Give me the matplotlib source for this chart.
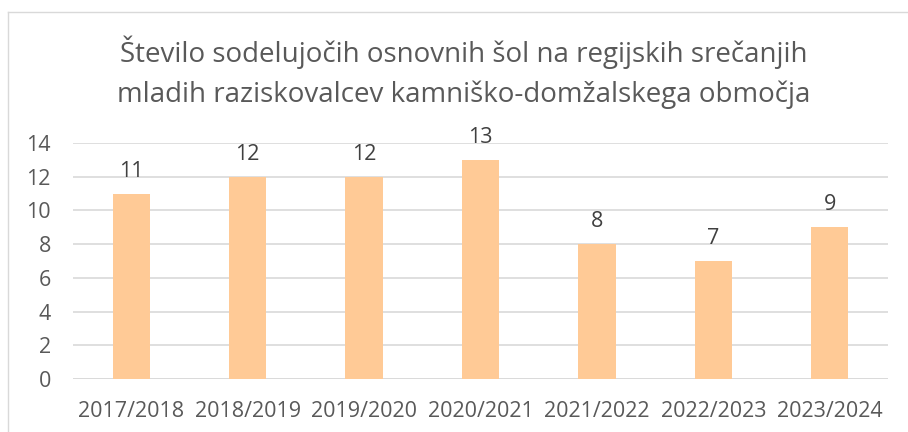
import matplotlib
matplotlib.use("Agg")
import matplotlib.pyplot as plt
from matplotlib.lines import Line2D

categories = ["2017/2018", "2018/2019", "2019/2020", "2020/2021", "2021/2022", "2022/2023", "2023/2024"]
values = [11, 12, 12, 13, 8, 7, 9]
yticks = [0, 2, 4, 6, 8, 10, 12, 14]
title = "Število sodelujočih osnovnih šol na regijskih srečanjih\nmladih raziskovalcev kamniško-domžalskega območja"

W, H = 908, 432
fig = plt.figure(figsize=(W / 100, H / 100), dpi=100)
plt.rcParams['font.family'] = ['Open Sans', 'DejaVu Sans']
txt = "#595959"

# axes: x from 73 to 888 px, y from 379 (0) to 143 (14)
left, right = 73, 888
bottom, top = 379, 143
ax = fig.add_axes([left / W, 1 - bottom / H, (right - left) / W, (bottom - top) / H])

x = range(len(categories))
bars = ax.bar(x, values, width=0.32, color="#FFCA96", zorder=3)
for xi, v in zip(x, values):
    ax.text(xi, v + 0.7, str(v), ha="center", va="bottom", fontsize=15.5, color="#404040")

ax.set_xlim(-0.5, len(categories) - 0.5)
ax.set_ylim(0, 14)
ax.set_yticks(yticks)
ax.set_xticks(list(x))
ax.set_xticklabels(categories)
ax.tick_params(axis="both", length=0, colors=txt, labelsize=15.5)
ax.tick_params(axis="x", pad=16)
ax.tick_params(axis="y", pad=16)
ax.yaxis.grid(True, color="#D9D9D9", linewidth=1.2, zorder=0)
for s in ax.spines.values():
    s.set_visible(False)
ax.axhline(0, color="#D9D9D9", linewidth=1.2, zorder=1)

fig.text(464 / W, 1 - 72 / H, title, ha="center", va="center", fontsize=20, color=txt, linespacing=1.55)

# chart border (left and top edges)
fig.add_artist(Line2D([8 / W, 8 / W], [0, 1 - 12 / H], transform=fig.transFigure, color="#D9D9D9", linewidth=1))
fig.add_artist(Line2D([8 / W, 1], [1 - 12 / H, 1 - 12 / H], transform=fig.transFigure, color="#D9D9D9", linewidth=1))

fig.savefig("out.png", dpi=100)
